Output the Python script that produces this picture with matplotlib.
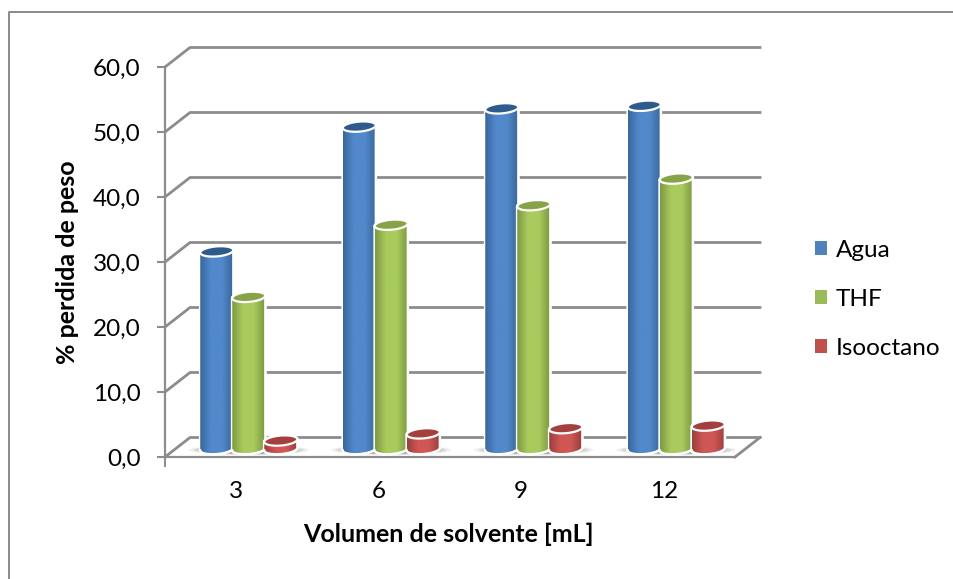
import numpy as np
import matplotlib
matplotlib.use('Agg')
import matplotlib.pyplot as plt
from matplotlib.colors import LinearSegmentedColormap
from matplotlib.lines import Line2D
from matplotlib.patches import Patch, Polygon

plt.rcParams['font.family'] = ['Lato', 'DejaVu Sans']

# datos
volumes = ['3', '6', '9', '12']
series_names = ['Agua', 'THF', 'Isooctano']
agua = [30.4, 49.6, 52.4, 52.8]
thf = [23.4, 34.5, 37.5, 41.6]
isooctano = [1.3, 2.4, 3.2, 3.6]
yticks = [0, 10, 20, 30, 40, 50, 60]

# colores: borde, centro, tapa
colors = [('#3A689C', '#5189CB', '#2F5A8C'),
          ('#7D9A41', '#A9CB5E', '#86A447'),
          ('#9A3E3C', '#CF5755', '#A33F3D')]

W, H = 954, 579
fig = plt.figure(figsize=(W / 100, H / 100), dpi=100)
ax = fig.add_axes([165 / W, (H - 457) / H, 570 / W, 390 / H])
ax.set_xlim(0, 4)
ax.set_ylim(0, 60)

px = 4 / 570    # un pixel en x
py = 60 / 390   # un pixel en y
dx = 25 * px    # profundidad del grafico 3D
dy = 19.5 * py
grey = '#8C8C8C'

# marco exterior, solo arriba e izquierda
fig.add_artist(Line2D([9.5 / W, 9.5 / W, 1], [0, (H - 12) / H, (H - 12) / H], transform=fig.transFigure,
                      color='#8A8A8A', linewidth=1.4))

# lineas de la pared del fondo
for v in yticks:
    ax.plot([0, dx, 4 + dx], [v, v + dy, v + dy], color=grey, lw=2, clip_on=False, zorder=1)
ax.plot([4, 4 + dx], [0, dy], color=grey, lw=2, clip_on=False, zorder=1)

# cilindros
width = 33 * px
step = 32 * px
a = width / 2
b = 5 * py
tilt = 1.3 * py
base = 8 * py
t = np.linspace(0, 2 * np.pi, 80)
lower = np.linspace(np.pi, 2 * np.pi, 40)
upper = np.linspace(0, np.pi, 40)

for i in range(len(volumes)):
    xc = i + 0.5 + dx / 2
    # sombra sobre el piso
    for grow, alpha in zip([1.0, 0.92, 0.84, 0.76, 0.68], [0.10, 0.16, 0.20, 0.24, 0.28]):
        ax.fill(xc + 0.42 * grow * np.cos(t), 7 * py + 5 * py * grow * np.sin(t),
                color='#666666', alpha=alpha, lw=0, zorder=2)
    for s, vals in enumerate([agua, thf, isooctano]):
        xb = xc + (s - 1) * step
        top = vals[i]
        edge, mid, cap = colors[s]
        # cuerpo
        xs = np.concatenate([xb + a * np.cos(lower), xb + a * np.cos(upper)])
        ys = np.concatenate([base + b * np.sin(lower) + tilt * np.cos(lower),
                             base + top + b * np.sin(upper) + tilt * np.cos(upper)])
        body = Polygon(np.column_stack([xs, ys]), closed=True, facecolor=mid,
                       edgecolor='white', linewidth=2, zorder=3 + s)
        ax.add_patch(body)
        cmap = LinearSegmentedColormap.from_list('c', [edge, mid, mid, edge])
        clip = Polygon(np.column_stack([xs, ys]), closed=True, transform=ax.transData)
        im = ax.imshow(np.linspace(0, 1, 64)[None, :], cmap=cmap, aspect='auto',
                       extent=[xb - a, xb + a, 0, 60], zorder=3 + s)
        im.set_clip_path(clip)
        ax.plot(xs, ys, color='white', lw=1.6, zorder=3 + s, solid_joinstyle='round')
        # tapa
        ax.fill(xb + a * np.cos(t), base + top + b * np.sin(t) + tilt * np.cos(t),
                facecolor=cap, edgecolor='white', linewidth=1.6, zorder=3 + s)

ax.set_xlim(0, 4)
ax.set_ylim(0, 60)

# ejes
for side in ['top', 'right']:
    ax.spines[side].set_visible(False)
for side in ['left', 'bottom']:
    ax.spines[side].set_color(grey)
    ax.spines[side].set_linewidth(1.6)
ax.set_yticks(yticks)
ax.set_yticklabels([f'{v},0' for v in yticks], fontsize=17.5)
ax.set_xticks(np.arange(len(volumes)) + 0.5)
ax.set_xticklabels(volumes, fontsize=17.5)
ax.set_xticks([0], minor=True)
ax.tick_params(axis='y', length=6, width=1.5, color=grey, pad=11.5)
ax.tick_params(axis='x', which='major', length=0, pad=17)
ax.tick_params(axis='x', which='minor', length=7, width=1.5, color=grey)
ax.patch.set_visible(False)

ax.set_xlabel('Volumen de solvente [mL]', fontsize=18, fontweight='bold')
ax.xaxis.set_label_coords((448 - 165) / 570, -(534 - 457) / 390)
ax.xaxis.label.set_verticalalignment('center')
ax.set_ylabel('% perdida de peso', fontsize=18, fontweight='bold')
ax.yaxis.set_label_coords((68 - 165) / 570, (457 - 262) / 390)
ax.yaxis.label.set_verticalalignment('center')

# leyenda
handles = [Patch(facecolor=c, label=n) for c, n in zip(['#4F81BD', '#9BBB59', '#C0504D'], series_names)]
ax.legend(handles=handles, frameon=False, fontsize=17.5, loc='center left',
          bbox_to_anchor=(1.14, 0.405), handlelength=0.5, handleheight=0.5,
          handletextpad=0.37, labelspacing=1.15, borderpad=0, borderaxespad=0)

fig.savefig('out.png', dpi=100)
